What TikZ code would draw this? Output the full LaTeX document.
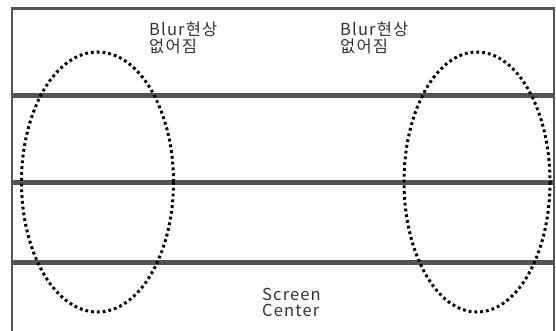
\documentclass[tikz,border=0pt]{standalone}
\usepackage{fontspec}
\setmainfont{Noto Sans CJK KR}[LetterSpace=7]
\begin{document}
\begin{tikzpicture}[x=1pt,y=-1pt,
  frame/.style={draw=black!67, line width=2.5pt},
  band/.style={draw=black!67, line width=5pt},
  blurzone/.style={draw=black, line width=3pt, dash pattern=on 2.8pt off 3pt},
  lbl/.style={font=\fontsize{16.5}{18}\selectfont, text=black!80, anchor=base west, inner sep=0pt}]
\useasboundingbox (0,0) rectangle (556,331);
% frame
\draw[frame] (12,331) -- (12,8.5) -- (554,8.5) -- (554,331);
% thick bands
\draw[band] (12,95.5) -- (554,95.5);
\draw[band] (12,182.5) -- (554,182.5);
\draw[band] (12,262) -- (554,262);
% dotted ellipses
\draw[blurzone] (97.5,182) ellipse [x radius=76, y radius=130];
\draw[blurzone] (477,182) ellipse [x radius=73, y radius=130];
% labels
\node[lbl] (t1a) at (149,36) {Blur현상};
\node[lbl] (t1b) at (149,52.5) {없어짐};
\node[lbl] (t2a) at (340,36) {Blur현상};
\node[lbl] (t2b) at (340,52.5) {없어짐};
\node[lbl] (sca) at (262,300) {Screen};
\node[lbl] (scb) at (262,316.5) {Center};
\end{tikzpicture}
\end{document}
